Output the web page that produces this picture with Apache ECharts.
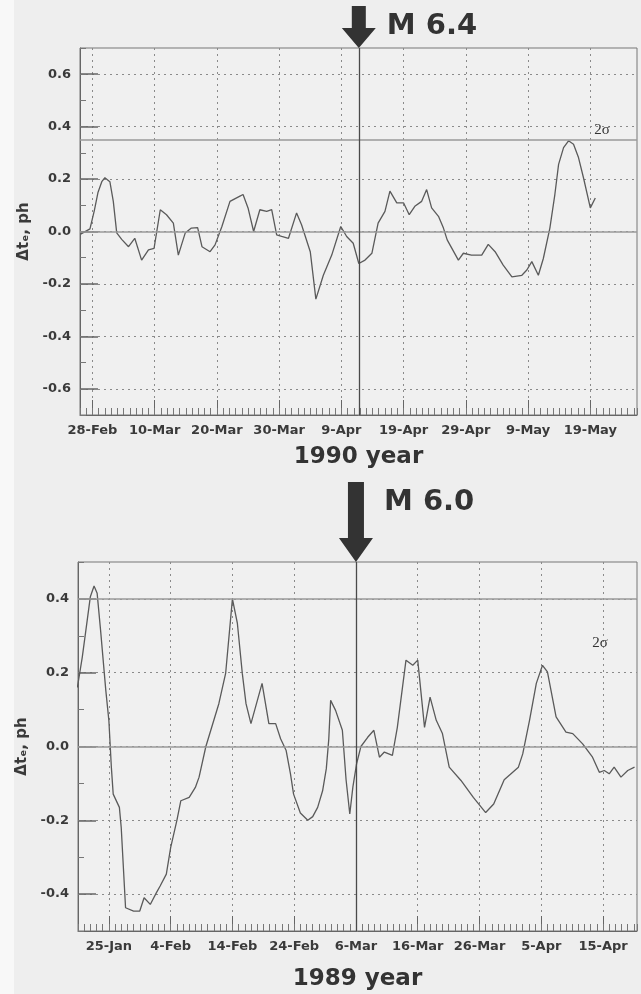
<!DOCTYPE html>
<html><head><meta charset="utf-8">
<script src="https://cdn.jsdelivr.net/npm/echarts@6/dist/echarts.min.js"></script>
<style>html,body{margin:0;padding:0;background:#eeeeee}#c{width:641px;height:994px}</style>
</head><body><div id="c"></div><script>
// ---- 1990 panel (day 0 = 28-Feb-1990) ----
const days1990 = [-1.9,-0.4,0.3,0.9,1.5,2.0,2.8,3.35,3.9,4.7,5.8,6.8,7.9,9.0,9.9,10.9,11.9,13.0,13.8,14.9,15.9,16.9,17.6,18.9,19.7,20.8,22.1,23.7,24.2,25.0,25.9,26.9,28.0,28.8,29.6,30.4,31.5,32.8,33.6,35.0,35.9,37.1,38.45,39.9,40.85,41.9,42.8,43.8,44.9,45.9,47.0,47.8,48.9,50.0,50.9,51.8,52.9,53.7,54.5,55.6,56.4,57.0,58.8,59.6,60.9,62.55,63.6,64.7,66.0,67.4,69.0,69.8,70.6,71.65,72.45,73.5,74.3,74.9,75.7,76.5,77.3,78.1,78.9,80.0,80.8];
const values1990 = [-0.01,0.01,0.08,0.15,0.19,0.205,0.19,0.115,-0.005,-0.03,-0.058,-0.026,-0.109,-0.07,-0.064,0.083,0.064,0.032,-0.09,-0.006,0.013,0.015,-0.058,-0.077,-0.051,0.019,0.115,0.135,0.141,0.09,0.0,0.083,0.077,0.083,-0.013,-0.019,-0.026,0.071,0.026,-0.077,-0.258,-0.167,-0.09,0.019,-0.019,-0.045,-0.122,-0.109,-0.083,0.032,0.077,0.154,0.109,0.109,0.064,0.096,0.115,0.16,0.09,0.058,0.013,-0.032,-0.109,-0.083,-0.09,-0.09,-0.049,-0.077,-0.128,-0.173,-0.167,-0.147,-0.115,-0.167,-0.103,0.013,0.141,0.256,0.32,0.346,0.333,0.282,0.205,0.09,0.128];
const tickDays1990 = [0,10,20,30,40,50,60,70,80];
const tickLabels1990 = ['28-Feb','10-Mar','20-Mar','30-Mar','9-Apr','19-Apr','29-Apr','9-May','19-May'];
const yTicks1990 = [-0.6,-0.4,-0.2,0,0.2,0.4,0.6];
const quakeDay1990 = 42.8;
const quakeLabel1990 = 'M 6.4';
const sigma1990 = 0.35;
const sigmaLabelAt1990 = [81.9, 0.387];
const yearLabel1990 = '1990 year';

// ---- 1989 panel (day 0 = 25-Jan-1989) ----
const days1989 = [-5.1,-4.3,-3.5,-3.0,-2.4,-1.9,-1.35,-0.5,0,0.4,0.7,1.7,2.0,2.7,4.0,5.0,5.7,6.7,7.7,8.3,9.3,10.0,11.0,11.65,13.0,14.0,14.6,15.7,17.8,18.9,20.0,20.8,21.6,22.2,23.0,24.8,25.9,27.0,27.8,28.7,29.4,29.9,31.0,32.2,33.0,33.8,34.6,35.2,35.6,35.9,36.7,37.8,38.4,39.0,39.5,40.1,40.8,41.9,42.9,43.8,44.6,45.9,46.7,48.1,49.2,50.0,51.1,52.0,53.0,54.0,55.1,57.0,59.0,61.0,62.3,64.0,66.3,67.0,68.1,69.2,70.2,71.0,72.4,74.0,75.1,76.7,78.3,79.4,80.2,81.0,81.8,82.9,84.0,85.1];
const values1989 = [0.16,0.243,0.343,0.406,0.435,0.415,0.316,0.152,0.07,-0.056,-0.129,-0.165,-0.22,-0.437,-0.446,-0.446,-0.41,-0.428,-0.396,-0.378,-0.346,-0.274,-0.201,-0.147,-0.138,-0.111,-0.083,0.0,0.116,0.198,0.40,0.334,0.198,0.116,0.062,0.171,0.062,0.062,0.021,-0.011,-0.074,-0.129,-0.18,-0.2,-0.19,-0.165,-0.12,-0.06,0.02,0.125,0.098,0.044,-0.09,-0.183,-0.11,-0.047,0.0,0.025,0.044,-0.029,-0.015,-0.024,0.052,0.234,0.22,0.234,0.052,0.134,0.071,0.035,-0.056,-0.092,-0.138,-0.179,-0.156,-0.09,-0.056,-0.02,0.071,0.171,0.22,0.202,0.08,0.039,0.035,0.007,-0.029,-0.07,-0.065,-0.074,-0.056,-0.083,-0.065,-0.056];
const tickDays1989 = [0,10,20,30,40,50,60,70,80];
const tickLabels1989 = ['25-Jan','4-Feb','14-Feb','24-Feb','6-Mar','16-Mar','26-Mar','5-Apr','15-Apr'];
const yTicks1989 = [-0.4,-0.2,0,0.2,0.4];
const quakeDay1989 = 40;
const quakeLabel1989 = 'M 6.0';
const sigma1989 = 0.4;
const sigmaLabelAt1989 = [79.5, 0.28];
const yearLabel1989 = '1989 year';

const FONT = 'DejaVu Sans';
const TXT = '#3a3a3a';
const GRIDC = '#8a8a8a';

function mainX(gridIndex, min, max, ticks, labels) {
  return {
    type: 'value', gridIndex, min, max, position: 'bottom',
    axisLine: { show: true, onZero: false, lineStyle: { color: '#666', width: 1 } },
    axisTick: { show: true, inside: true, length: 15, customValues: ticks, lineStyle: { color: '#666' } },
    axisLabel: { customValues: ticks, formatter: v => labels[ticks.indexOf(v)] || '', color: TXT, fontFamily: FONT, fontWeight: 'bold', fontSize: 13, margin: 9 },
    splitLine: { show: true, lineStyle: { color: GRIDC, type: [2, 4], width: 1 } }
  };
}
function minorX(gridIndex, min, max) {
  return {
    type: 'value', gridIndex, min, max, interval: 1, position: 'bottom',
    axisLine: { show: false, onZero: false },
    axisTick: { show: true, inside: true, length: 7, lineStyle: { color: '#777' } },
    axisLabel: { show: false }, splitLine: { show: false }
  };
}
function mainY(gridIndex, min, max, ticks) {
  return {
    type: 'value', gridIndex, min, max, position: 'left',
    name: '\u0394t\u2091, ph', nameLocation: 'middle', nameGap: 44,
    nameTextStyle: { color: TXT, fontFamily: FONT, fontWeight: 'bold', fontSize: 15 },
    axisLine: { show: true, onZero: false, lineStyle: { color: '#666' } },
    axisTick: { show: true, inside: true, length: 18, customValues: ticks, lineStyle: { color: '#666', width: 1.5 } },
    axisLabel: { customValues: ticks, formatter: v => v.toFixed(1), color: TXT, fontFamily: FONT, fontWeight: 'bold', fontSize: 13, margin: 9 },
    splitLine: { show: true, lineStyle: { color: GRIDC, type: [2, 4], width: 1 } }
  };
}
function minorY(gridIndex, min, max) {
  return {
    type: 'value', gridIndex, min, max, interval: 0.1, position: 'left',
    axisLine: { show: false, onZero: false },
    axisTick: { show: true, inside: true, length: 6, lineStyle: { color: '#777' } },
    axisLabel: { show: false }, splitLine: { show: false }
  };
}
function lineSeries(xi, yi, days, vals, quake, sigma) {
  return {
    type: 'line', xAxisIndex: xi, yAxisIndex: yi,
    data: days.map((d, i) => [d, vals[i]]),
    showSymbol: false, animation: false,
    lineStyle: { color: '#5a5a5a', width: 1.3 },
    markLine: {
      silent: true, symbol: 'none', animation: false, label: { show: false },
      data: [
        { yAxis: 0, lineStyle: { color: '#9a9a9a', type: 'solid', width: 1.5 } },
        { yAxis: sigma, lineStyle: { color: '#9a9a9a', type: 'solid', width: 1.5 } },
        { xAxis: quake, lineStyle: { color: '#4a4a4a', type: 'solid', width: 1.3 } }
      ]
    }
  };
}

const chart = echarts.init(document.getElementById('c'), null, { renderer: 'canvas' });
chart.setOption({
  backgroundColor: '#eeeeee',
  animation: false,
  grid: [
    { left: 80, top: 48, width: 557, height: 367, show: true, borderColor: '#777', borderWidth: 1, backgroundColor: '#f0f0f0' },
    { left: 78, top: 562, width: 559, height: 369, show: true, borderColor: '#777', borderWidth: 1, backgroundColor: '#f0f0f0' }
  ],
  xAxis: [
    mainX(0, -2, 87.5, tickDays1990, tickLabels1990),
    minorX(0, -2, 87.5),
    mainX(1, -5, 85.5, tickDays1989, tickLabels1989),
    minorX(1, -5, 85.5)
  ],
  yAxis: [
    mainY(0, -0.7, 0.7, yTicks1990),
    minorY(0, -0.7, 0.7),
    mainY(1, -0.5, 0.5, yTicks1989),
    minorY(1, -0.5, 0.5)
  ],
  series: [
    lineSeries(0, 0, days1990, values1990, quakeDay1990, sigma1990),
    lineSeries(2, 2, days1989, values1989, quakeDay1989, sigma1989)
  ]
});

function arrowPts(cx, shaftTop, headTop, tip, sw, hw) {
  return [[cx - sw, shaftTop], [cx + sw, shaftTop], [cx + sw, headTop], [cx + hw, headTop], [cx, tip], [cx - hw, headTop], [cx - sw, headTop]];
}
const q1 = chart.convertToPixel({ xAxisIndex: 0, yAxisIndex: 0 }, [quakeDay1990, 0.7]);
const q2 = chart.convertToPixel({ xAxisIndex: 2, yAxisIndex: 2 }, [quakeDay1989, 0.5]);
const s1 = chart.convertToPixel({ xAxisIndex: 0, yAxisIndex: 0 }, sigmaLabelAt1990);
const s2 = chart.convertToPixel({ xAxisIndex: 2, yAxisIndex: 2 }, sigmaLabelAt1989);
const c1 = chart.convertToPixel({ xAxisIndex: 0, yAxisIndex: 0 }, [42.75, -0.7]);
const c2 = chart.convertToPixel({ xAxisIndex: 2, yAxisIndex: 2 }, [40.25, -0.5]);
const titleFont = { fontFamily: FONT, fontWeight: 'bold', fill: '#333' };
chart.setOption({
  graphic: [
    { type: 'rect', shape: { x: 0, y: 0, width: 14, height: 994 }, style: { fill: '#f8f8f8' }, z: -1 },
    { type: 'polygon', shape: { points: arrowPts(q1[0], 6, 28, q1[1], 7, 17) }, style: { fill: '#333' } },
    { type: 'text', x: q1[0] + 28, y: 26, style: Object.assign({ text: quakeLabel1990, fontSize: 29, verticalAlign: 'middle', align: 'left' }, titleFont) },
    { type: 'polygon', shape: { points: arrowPts(q2[0], 482, 538, q2[1], 8, 17) }, style: { fill: '#333' } },
    { type: 'text', x: q2[0] + 28, y: 502, style: Object.assign({ text: quakeLabel1989, fontSize: 29, verticalAlign: 'middle', align: 'left' }, titleFont) },
    { type: 'text', x: c1[0], y: 457, style: Object.assign({ text: yearLabel1990, fontSize: 23, verticalAlign: 'middle', align: 'center' }, titleFont) },
    { type: 'text', x: c2[0], y: 979, style: Object.assign({ text: yearLabel1989, fontSize: 23, verticalAlign: 'middle', align: 'center' }, titleFont) },
    { type: 'text', x: s1[0], y: s1[1], style: { text: '2\u03c3', fontFamily: 'Liberation Serif', fontSize: 15, fill: '#333', align: 'center', verticalAlign: 'middle' } },
    { type: 'text', x: s2[0], y: s2[1], style: { text: '2\u03c3', fontFamily: 'Liberation Serif', fontSize: 15, fill: '#333', align: 'center', verticalAlign: 'middle' } }
  ]
});
</script></body></html>
